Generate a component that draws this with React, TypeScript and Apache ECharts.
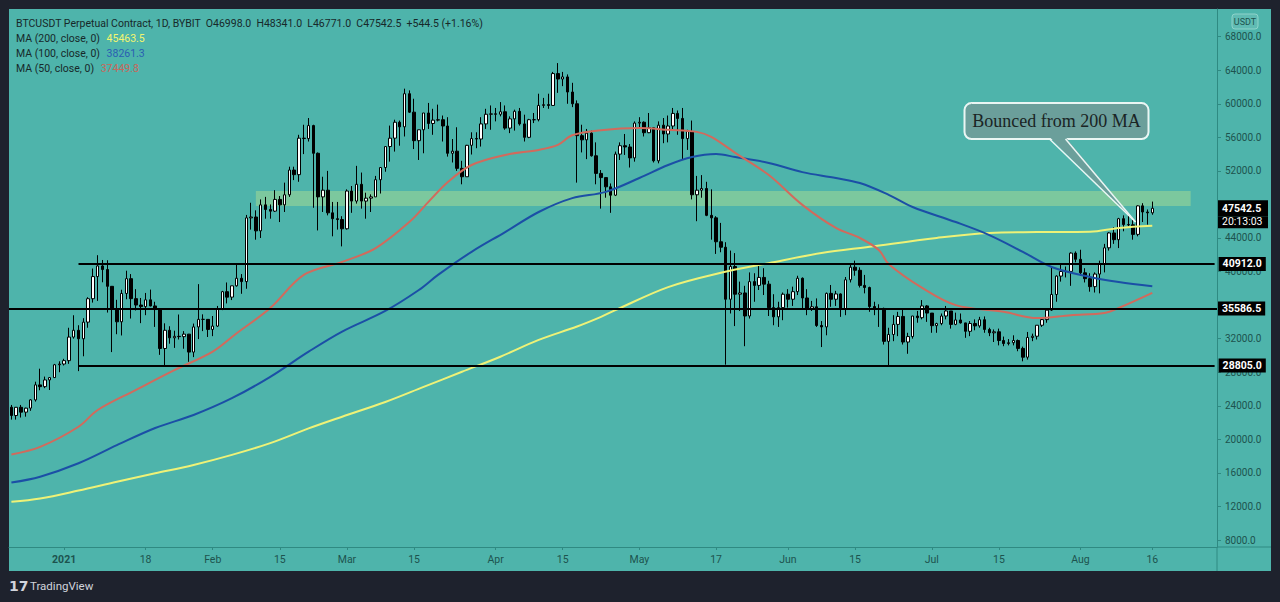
import React, { useEffect, useRef } from "react";
import * as echarts from "echarts";

// ---------- data ----------
const startDate = "2020-12-21";
const futureDays = 13;

// [open, close, low, high] per day from 2020-12-21 to 2021-08-16
const candles: number[][] = [
  [23830, 22840, 22350, 24100], [22840, 23820, 22350, 23850], [23820, 23240, 22600, 24100], [23240, 23720, 22700, 23770],
  [23720, 24700, 23400, 24780], [24700, 26490, 24500, 26870], [26490, 26280, 25850, 28420], [26280, 27080, 26100, 27480],
  [27080, 27360, 25880, 27400], [27360, 28890, 27320, 28990], [28890, 28980, 28000, 29300],
  [28980, 29380, 28800, 29600], [29380, 32190, 29000, 33300], [32190, 33000, 32000, 34790], [33000, 31990, 28130, 33600],
  [31990, 33970, 29900, 34440], [33970, 36760, 33300, 36940], [36760, 39400, 36300, 40360], [39400, 40670, 36500, 41950],
  [40670, 40240, 38720, 41380], [40240, 38240, 35110, 41350], [38240, 35540, 30400, 38260], [35540, 34010, 32530, 36630],
  [34010, 37390, 32380, 37830], [37390, 39150, 36700, 40100], [39150, 36770, 34400, 39700], [36770, 36010, 35360, 37900],
  [36010, 35820, 33850, 36850], [35820, 36630, 34800, 37450], [36630, 35900, 35850, 37850], [35900, 35470, 33400, 36400],
  [35470, 30830, 30070, 35600], [30830, 33000, 28800, 33830], [33000, 32100, 31400, 33480], [32100, 32280, 30900, 32950],
  [32280, 32240, 31900, 34880], [32240, 32540, 30800, 32900], [32540, 30400, 29240, 32560], [30400, 33400, 29800, 33800],
  [33400, 34300, 31950, 38500], [34300, 34300, 32900, 34900], [34300, 33100, 32200, 34300],
  [33100, 33500, 32300, 34700], [33500, 35500, 33400, 35900], [35500, 37600, 35400, 37700], [37600, 36950, 36200, 38700],
  [36950, 38300, 36600, 38300], [38300, 39200, 38200, 40950], [39200, 38800, 37350, 39700], [38800, 46400, 37950, 46750],
  [46400, 46500, 45000, 48200], [46500, 44850, 43800, 47300], [44850, 47950, 44000, 48600], [47950, 47400, 46300, 48900],
  [47400, 47200, 46300, 48000], [47200, 48600, 47100, 49700], [48600, 47950, 45900, 49000], [47950, 49150, 47100, 50600],
  [49150, 52100, 48900, 52500], [52100, 51550, 50900, 52500], [51550, 55900, 50700, 56300], [55900, 55850, 54000, 57500],
  [55850, 57400, 55500, 58300], [57400, 54100, 47600, 57500], [54100, 48900, 44900, 54200], [48900, 49700, 47100, 51300],
  [49700, 47000, 46700, 52000], [47000, 46300, 44200, 48300], [46300, 46200, 45000, 48300], [46200, 45100, 43000, 46600],
  [45100, 49600, 45000, 49800], [49600, 48400, 47000, 50200], [48400, 50400, 48100, 52600], [50400, 48400, 47500, 51800],
  [48400, 48750, 46300, 49400], [48750, 48900, 47100, 49200], [48900, 50950, 48900, 51400], [50950, 52400, 49300, 52400],
  [52400, 54900, 51900, 54900], [54900, 55900, 53100, 57400], [55900, 57800, 54300, 58100], [57800, 57250, 55000, 58000],
  [57250, 61200, 56100, 61800], [61200, 59000, 58900, 61600], [59000, 55600, 54600, 60600], [55600, 56900, 53300, 56900],
  [56900, 58900, 54100, 58900], [58900, 57650, 57000, 60100], [57650, 58050, 56300, 59400], [58050, 58100, 57900, 59900],
  [58100, 57350, 55500, 58600], [57350, 54100, 53700, 58400], [54100, 54350, 53000, 55800], [54350, 52300, 52000, 57200],
  [52300, 51300, 50400, 53200], [51300, 55050, 51300, 55100], [55050, 55850, 53950, 56600], [55850, 55800, 54700, 56600],
  [55800, 57600, 54900, 58400], [57600, 58750, 57000, 59400], [58750, 58800, 56900, 59800],
  [58800, 58750, 57900, 59500], [58750, 59050, 58500, 60200], [59050, 57100, 56900, 59800], [57100, 58200, 56500, 58500],
  [58200, 59100, 56800, 59300], [59100, 57600, 57400, 59500], [57600, 56000, 55500, 58700], [56000, 58100, 55900, 58200],
  [58100, 58100, 57700, 58900], [58100, 59800, 57900, 61200], [59800, 59900, 59500, 60700], [59900, 59800, 59400, 61200],
  [59800, 63600, 59800, 63800], [63600, 62950, 61300, 64850], [62950, 63200, 62100, 63800], [63200, 61400, 60000, 63500],
  [61400, 60000, 59600, 62500], [60000, 56200, 50600, 60400], [56200, 55700, 54200, 57500], [55700, 56500, 53400, 57000],
  [56500, 53800, 53700, 56800], [53800, 51700, 50400, 55400], [51700, 51200, 47500, 52100], [51200, 50100, 48800, 51200],
  [50100, 49100, 47000, 50500], [49100, 54000, 49000, 54300], [54000, 55000, 53300, 55400], [55000, 54850, 53900, 56400],
  [54850, 53550, 52400, 55200], [53550, 57700, 53100, 57900],
  [57700, 57800, 57000, 58400], [57800, 56550, 56100, 57900], [56550, 57150, 56500, 58900], [57150, 53200, 53000, 57200],
  [53200, 57450, 52900, 57900], [57450, 56400, 55300, 58300], [56400, 57350, 55400, 58600], [57350, 58850, 56900, 59500],
  [58850, 58250, 56300, 59200], [58250, 55850, 53400, 59500], [55850, 56700, 54500, 56900], [56700, 49150, 48600, 58000],
  [49150, 49700, 46000, 51400], [49700, 49900, 48800, 51500], [49900, 46700, 46600, 50700], [46700, 46400, 43800, 49800],
  [46400, 43550, 42100, 46600], [43550, 42900, 42300, 45800], [42900, 36700, 28900, 43500], [36700, 40600, 35000, 42500],
  [40600, 37300, 33500, 42200], [37300, 37450, 35300, 38800], [37450, 34700, 31100, 38300], [34700, 38800, 34400, 39900],
  [38800, 38350, 36400, 39800], [38350, 39300, 37800, 40900], [39300, 38500, 37200, 40400], [38500, 35700, 34700, 38900],
  [35700, 34600, 33600, 37300], [34600, 35700, 33400, 36400], [35700, 37300, 34200, 37500],
  [37300, 36700, 35700, 37900], [36700, 37600, 35900, 38200], [37600, 39200, 37200, 39500], [39200, 36850, 35600, 39300],
  [36850, 35520, 34800, 37900], [35520, 35800, 35300, 36500], [35800, 33570, 33400, 36800], [33570, 33400, 31000, 34100],
  [33400, 37400, 32400, 37500], [37400, 36700, 35800, 38400], [36700, 37330, 35900, 37700], [37330, 35550, 34600, 37400],
  [35550, 39020, 34800, 39350], [39020, 40520, 38700, 41000], [40520, 40150, 39500, 41300], [40150, 38350, 38100, 40500],
  [38350, 38100, 37400, 39600], [38100, 35830, 35200, 38200], [35830, 35500, 34800, 36400], [35500, 35600, 33400, 36100],
  [35600, 31680, 31300, 35700], [31680, 32500, 28800, 33300], [32500, 33700, 31700, 34800], [33700, 34650, 32300, 35200],
  [34650, 31600, 31300, 35500], [31600, 32250, 30200, 32700], [32250, 34700, 32000, 34700], [34700, 34500, 33900, 35300],
  [34500, 35900, 34300, 36600], [35900, 35050, 34000, 36000],
  [35050, 33550, 32700, 35050], [33550, 33800, 32700, 33900], [33800, 34700, 33600, 35000], [34700, 35300, 34300, 35900],
  [35300, 33700, 33200, 35300], [33700, 34230, 33600, 35100], [34230, 33880, 33800, 35000], [33880, 32880, 32100, 33900],
  [32880, 33810, 32300, 34100], [33810, 33520, 33000, 34300], [33520, 34260, 33300, 34600], [34260, 33100, 32700, 34650],
  [33100, 32700, 32300, 33300], [32700, 32820, 31600, 33100], [32820, 31780, 31200, 33200], [31780, 31420, 31100, 32250],
  [31420, 31520, 31200, 31950], [31520, 31780, 31200, 32400], [31780, 30840, 30500, 31900], [30840, 29790, 29300, 31050],
  [29790, 32140, 29500, 32800], [32140, 32290, 31700, 32600], [32290, 33600, 31900, 33600], [33600, 34270, 33400, 34500],
  [34270, 35400, 33900, 35400], [35400, 37270, 35300, 40500], [37270, 39460, 36400, 39550], [39460, 40010, 38800, 40900],
  [40010, 40020, 39300, 40600], [40020, 42200, 38300, 42300], [42200, 41460, 41100, 42400],
  [41460, 39850, 39500, 42600], [39850, 39150, 38700, 40400], [39150, 38200, 37600, 39800], [38200, 39700, 37500, 39900],
  [39700, 40870, 37400, 41300], [40870, 42830, 39900, 43300], [42830, 44600, 42500, 44700], [44600, 43800, 43300, 45300],
  [43800, 46300, 42800, 46400], [46300, 45600, 44800, 46700], [45600, 45570, 45400, 46700], [45570, 44430, 43800, 46200],
  [44430, 47830, 44200, 47900], [47830, 47100, 45900, 48150], [47100, 47000, 45600, 47400], [46998, 47542.5, 46771, 48341],
];

// moving averages: [date, value]
const ma200: [string, number][] = [
  ["2020-12-21", 12550], ["2020-12-27", 12950], ["2021-01-04", 13900], ["2021-01-12", 14950], ["2021-01-20", 15950],
  ["2021-01-28", 16950], ["2021-02-05", 18150], ["2021-02-13", 19550], ["2021-02-21", 21300], ["2021-02-28", 22700],
  ["2021-03-09", 24450], ["2021-03-17", 26250], ["2021-03-25", 28050], ["2021-04-02", 29850], ["2021-04-10", 31850],
  ["2021-04-18", 33450], ["2021-04-23", 34600], ["2021-04-26", 35400], ["2021-05-07", 38150], ["2021-05-18", 39850],
  ["2021-05-28", 41000], ["2021-06-08", 42200], ["2021-06-18", 42950], ["2021-07-02", 44000], ["2021-07-13", 44600],
  ["2021-07-23", 44700], ["2021-08-03", 44750], ["2021-08-09", 45200], ["2021-08-16", 45463.5],
];
const ma100: [string, number][] = [
  ["2020-12-21", 14850], ["2020-12-27", 15550], ["2021-01-04", 17150], ["2021-01-12", 19300], ["2021-01-20", 21350],
  ["2021-01-28", 22900], ["2021-02-05", 24900], ["2021-02-13", 27450], ["2021-02-21", 30450], ["2021-02-28", 32850],
  ["2021-03-09", 35300], ["2021-03-16", 37800], ["2021-03-20", 39600], ["2021-03-27", 42350], ["2021-04-03", 44700],
  ["2021-04-10", 47100], ["2021-04-17", 48750], ["2021-04-24", 49500], ["2021-05-01", 51150], ["2021-05-07", 52700],
  ["2021-05-12", 53650], ["2021-05-17", 54000], ["2021-05-21", 53650], ["2021-05-28", 52950], ["2021-06-04", 51850],
  ["2021-06-11", 51150], ["2021-06-16", 50550], ["2021-06-22", 49150], ["2021-06-27", 47700], ["2021-07-06", 45900],
  ["2021-07-13", 44350], ["2021-07-20", 42350], ["2021-07-26", 40550], ["2021-08-03", 39350], ["2021-08-09", 38750],
  ["2021-08-16", 38261.3],
];
const ma50: [string, number][] = [
  ["2020-12-21", 18200], ["2020-12-27", 19100], ["2021-01-04", 21500], ["2021-01-08", 23500], ["2021-01-16", 25900],
  ["2021-01-24", 28250], ["2021-02-01", 30450], ["2021-02-06", 32650], ["2021-02-13", 35650], ["2021-02-20", 39600],
  ["2021-02-28", 41150], ["2021-03-07", 42800], ["2021-03-14", 45900], ["2021-03-18", 48300], ["2021-03-22", 50650],
  ["2021-03-27", 52700], ["2021-04-03", 53900], ["2021-04-10", 54500], ["2021-04-14", 55100], ["2021-04-17", 56250],
  ["2021-04-23", 56850], ["2021-05-01", 57100], ["2021-05-07", 56900], ["2021-05-13", 56650], ["2021-05-16", 56050],
  ["2021-05-21", 54150], ["2021-05-28", 51500], ["2021-06-04", 47950], ["2021-06-11", 45200], ["2021-06-16", 44000],
  ["2021-06-20", 42550], ["2021-06-22", 40900], ["2021-06-29", 38050], ["2021-07-06", 36000], ["2021-07-16", 35200],
  ["2021-07-23", 34450], ["2021-07-30", 34800], ["2021-08-06", 35050], ["2021-08-09", 35650], ["2021-08-16", 37449.8],
];

// horizontal levels and where they start (null = full width)
const levels = [40912.0, 35586.5, 28805.0];
const levelStarts: (string | null)[] = ["2021-01-04", null, "2021-01-04"];

// resistance zone
const zoneLow = 47814;
const zoneHigh = 49602;
const zoneStart = "2021-02-10";
const zoneEnd = "2021-08-24";

const lastPrice = 47542.5;
const countdown = "20:13:03";

const xTickDates = [
  "2021-01-01", "2021-01-18", "2021-02-01", "2021-02-15", "2021-03-01", "2021-03-15", "2021-04-01", "2021-04-15",
  "2021-05-01", "2021-05-17", "2021-06-01", "2021-06-15", "2021-07-01", "2021-07-15", "2021-08-01", "2021-08-16",
];
const xTickLabels = ["2021", "18", "Feb", "15", "Mar", "15", "Apr", "15", "May", "17", "Jun", "15", "Jul", "15", "Aug", "16"];
const yTicks = [8000, 12000, 16000, 20000, 24000, 28000, 32000, 36000, 40000, 44000, 48000, 52000, 56000, 60000, 64000, 68000];
// labels hidden behind the price tags in the reference
const yLabelValues = [8000, 12000, 16000, 20000, 24000, 28000, 32000, 40000, 44000, 52000, 56000, 60000, 64000, 68000];

const headerTitle = "BTCUSDT Perpetual Contract, 1D, BYBIT  O46998.0  H48341.0  L46771.0  C47542.5  +544.5 (+1.16%)";
const legendNames = ["MA (200, close, 0)", "MA (100, close, 0)", "MA (50, close, 0)"];
const legendValues = ["45463.5", "38261.3", "37449.8"];

const noteText = "Bounced from 200 MA";
const noteDates = ["2021-08-12", "2021-08-13"];
const noteValue = 45900;

// ---------- styles ----------
const FONT = "Roboto, 'Noto Sans', 'DejaVu Sans', sans-serif";
const TEAL = "#4eb4ab";
const DARK = "#1e222d";
const AXIS = "#2f8a82";
const AXIS_TEXT = "#1d534e";
const TXT = "#17292a";
const C_MA200 = "#eef277";
const C_MA100 = "#1b4fa6";
const C_MA50 = "#d26a5c";
const LEGEND_COLORS = ["#f3f56e", "#2a5eb3", "#c9675a"];
const TAG_W = 42;

function makeDates(start: string, n: number): string[] {
  const t0 = new Date(start + "T00:00:00Z").getTime();
  const out: string[] = [];
  for (let i = 0; i < n; i++) out.push(new Date(t0 + i * 86400000).toISOString().slice(0, 10));
  return out;
}

export default function App() {
  const ref = useRef<HTMLDivElement>(null);

  useEffect(() => {
    document.body.style.margin = "0";
    const el = ref.current;
    if (!el) return;
    const chart = echarts.init(el, null, { renderer: "svg" });
    const dates = makeDates(startDate, candles.length + futureDays);
    const lastCat = dates[dates.length - 1];
    const tickSet = new Set(xTickDates);

    const tagLabel = (v: number, distance: number) => ({
      show: true,
      position: "end",
      distance,
      formatter: v.toFixed(1),
      color: "#ffffff",
      backgroundColor: "#000000",
      fontFamily: FONT,
      fontSize: 10.5,
      fontWeight: "bold",
      padding: [2, 4, 1, 4],
    });

    const levelData: any[] = levels.map((v, k) => {
      const s = levelStarts[k];
      if (s) {
        return [{ coord: [s, v], label: tagLabel(v, 4) }, { coord: [lastCat, v] }];
      }
      return { yAxis: v, label: tagLabel(v, 1) };
    });
    // current price tag (the price line itself is not drawn)
    levelData.push({
      yAxis: lastPrice,
      lineStyle: { color: "rgba(0,0,0,0)", width: 0, opacity: 1 },
      label: {
        ...tagLabel(lastPrice, 1),
        width: TAG_W,
        padding: [4, 4, 0, 4],
        lineHeight: 12,
      },
    });

    const maSeries = (name: string, data: [string, number][], color: string) => ({
      name,
      type: "line",
      data,
      smooth: 0.35,
      symbol: "none",
      silent: true,
      z: 3,
      lineStyle: { color, width: 2 },
    });

    const option: any = {
      animation: false,
      backgroundColor: "transparent",
      textStyle: { fontFamily: FONT },
      grid: { left: 9, right: 63, top: 9, bottom: 55 },
      xAxis: {
        type: "category",
        data: dates,
        boundaryGap: true,
        axisLine: { show: true, lineStyle: { color: AXIS, width: 1 } },
        axisTick: {
          show: true,
          alignWithLabel: true,
          length: 3,
          interval: (_i: number, v: string) => tickSet.has(v),
          lineStyle: { color: AXIS },
        },
        axisLabel: {
          interval: (_i: number, v: string) => tickSet.has(v),
          formatter: (v: string) => {
            const k = xTickDates.indexOf(v);
            if (k < 0) return "";
            const t = xTickLabels[k];
            return /^\d{4}$/.test(t) ? `{b|${t}}` : t;
          },
          color: AXIS_TEXT,
          fontSize: 10.5,
          fontFamily: FONT,
          margin: 7,
          rich: { b: { fontWeight: "bold", color: AXIS_TEXT, fontSize: 10.5, fontFamily: FONT } },
        },
        splitLine: { show: false },
      },
      yAxis: {
        type: "value",
        position: "right",
        min: 7166,
        max: 71297,
        axisLine: { show: true, lineStyle: { color: AXIS, width: 1 } },
        axisTick: { show: true, customValues: yTicks, length: 4, lineStyle: { color: AXIS } },
        axisLabel: {
          customValues: yLabelValues,
          formatter: (v: number) => v.toFixed(1),
          color: AXIS_TEXT,
          fontSize: 10,
          fontFamily: FONT,
          margin: 8,
        },
        splitLine: { show: false },
      },
      series: [
        {
          name: "BTCUSDT",
          type: "candlestick",
          data: candles,
          barWidth: 3,
          z: 2,
          silent: true,
          itemStyle: {
            color: "#ffffff",
            color0: "#000000",
            borderColor: "#000000",
            borderColor0: "#000000",
            borderWidth: 1,
          },
        },
        maSeries("MA 200", ma200, C_MA200),
        maSeries("MA 100", ma100, C_MA100),
        maSeries("MA 50", ma50, C_MA50),
        {
          name: "zone",
          type: "line",
          data: [],
          z: 4,
          silent: true,
          markArea: {
            silent: true,
            itemStyle: { color: "rgba(195,230,140,0.40)" },
            data: [[{ xAxis: zoneStart, yAxis: zoneLow }, { xAxis: zoneEnd, yAxis: zoneHigh }]],
          },
        },
        {
          name: "levels",
          type: "line",
          data: [],
          z: 5,
          silent: true,
          markLine: {
            silent: true,
            symbol: ["none", "none"],
            lineStyle: { color: "#000000", width: 2, type: "solid" },
            data: levelData,
          },
        },
      ],
    };
    chart.setOption(option);

    // positions anchored to data
    const priceY = (chart.convertToPixel({ gridIndex: 0 }, [0, lastPrice]) as number[])[1];
    const axisX = 1280 - 63; // grid right edge
    const pa = chart.convertToPixel({ gridIndex: 0 }, [dates.indexOf(noteDates[0]), noteValue]) as number[];
    const pb = chart.convertToPixel({ gridIndex: 0 }, [dates.indexOf(noteDates[1]), noteValue]) as number[];
    const tip = [(pa[0] + pb[0]) / 2, pa[1]];
    const boxL = tip[0] - 171;
    const boxT = tip[1] - 119;
    const boxW = 184;
    const boxH = 36;
    const boxB = boxT + boxH;
    const w1 = tip[0] - 86;
    const w2 = tip[0] - 70;
    const BOX_FILL = "#6b9f9b";
    const BOX_LINE = "#eaf6f4";

    const graphics: any[] = [
      // header
      {
        type: "text", id: "title", x: 16, y: 23,
        style: { text: headerTitle, fill: TXT, font: `10.5px ${FONT}`, verticalAlign: "middle" },
      },
      ...legendNames.map((n, k) => ({
        type: "text",
        id: "leg" + k,
        x: 16,
        y: 38 + k * 15,
        style: {
          text: `{n|${n}}  {v|${legendValues[k]}}`,
          verticalAlign: "middle",
          rich: {
            n: { fill: TXT, fontSize: 10.5, fontFamily: FONT },
            v: { fill: LEGEND_COLORS[k], fontSize: 10.5, fontFamily: FONT },
          },
        },
      })),
      // countdown under the current price tag
      {
        type: "rect", id: "cdBox", z: 30,
        shape: { x: axisX + 1, y: priceY + 8, width: TAG_W + 8, height: 12 },
        style: { fill: "#000000" },
      },
      {
        type: "text", id: "cdText", z: 31, x: axisX + 5, y: priceY + 13.5,
        style: { text: countdown, fill: "#ffffff", font: `10.5px ${FONT}`, verticalAlign: "middle" },
      },
      // USDT badge
      {
        type: "rect", id: "usdtBox", shape: { x: 1232, y: 14, width: 26, height: 15, r: 3 },
        style: { fill: "rgba(255,255,255,0.10)", stroke: "#8ed3ca", lineWidth: 1 },
      },
      {
        type: "text", id: "usdt", x: 1245, y: 21.5,
        style: { text: "USDT", fill: AXIS_TEXT, font: `9px ${FONT}`, align: "center", verticalAlign: "middle" },
      },
      // axis extensions into the price scale / bottom area
      {
        type: "line", id: "xExt", shape: { x1: axisX, y1: 547, x2: 1271, y2: 547 },
        style: { stroke: AXIS, lineWidth: 1 },
      },
      {
        type: "line", id: "yExt", shape: { x1: axisX, y1: 547, x2: axisX, y2: 571 },
        style: { stroke: AXIS, lineWidth: 1 },
      },
      // TradingView footer
      {
        type: "text", id: "tvLogo", x: 9, y: 586,
        style: { text: "17", fill: "#d1d4dc", font: `bold 14px 'DejaVu Sans', sans-serif`, verticalAlign: "middle" },
      },
      {
        type: "text", id: "tvText", x: 30, y: 586,
        style: { text: "TradingView", fill: "#d1d4dc", font: `11.5px ${FONT}`, verticalAlign: "middle" },
      },
      // callout
      {
        type: "rect", id: "noteBox", z: 20,
        shape: { x: boxL, y: boxT, width: boxW, height: boxH, r: 7 },
        style: { fill: BOX_FILL, stroke: BOX_LINE, lineWidth: 2 },
      },
      {
        type: "polygon", id: "noteWedge", z: 21,
        shape: { points: [[w1, boxB - 2], [w2, boxB - 2], [tip[0], tip[1]]] },
        style: { fill: BOX_FILL },
      },
      {
        type: "line", id: "noteL1", z: 22,
        shape: { x1: w1, y1: boxB, x2: tip[0], y2: tip[1] },
        style: { stroke: BOX_LINE, lineWidth: 1.5 },
      },
      {
        type: "line", id: "noteL2", z: 22,
        shape: { x1: w2, y1: boxB, x2: tip[0], y2: tip[1] },
        style: { stroke: BOX_LINE, lineWidth: 1.5 },
      },
      {
        type: "text", id: "noteText", z: 23,
        x: boxL + boxW / 2, y: boxT + boxH / 2,
        style: {
          text: noteText, fill: "#1a2424", align: "center", verticalAlign: "middle",
          font: `18px 'Liberation Serif', 'DejaVu Serif', serif`,
        },
      },
    ];
    chart.setOption({ graphic: graphics });

    return () => chart.dispose();
  }, []);

  return (
    <div style={{ position: "fixed", left: 0, top: 0, width: 1280, height: 602, background: DARK, overflow: "hidden" }}>
      <div style={{ position: "absolute", left: 9, top: 9, width: 1262, height: 562, background: TEAL }} />
      <div ref={ref} style={{ position: "absolute", left: 0, top: 0, width: 1280, height: 602 }} />
    </div>
  );
}
